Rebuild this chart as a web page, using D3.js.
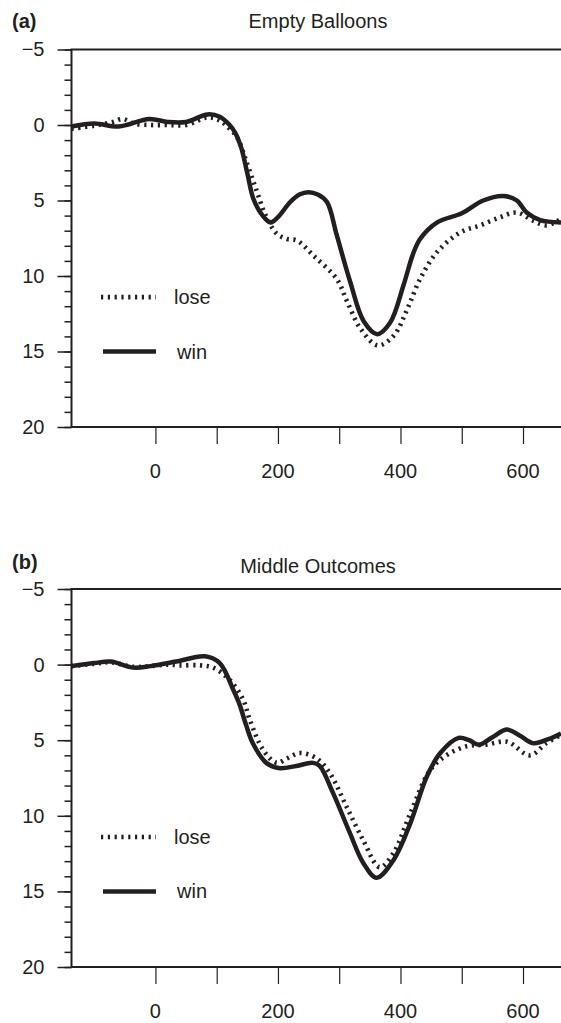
<!DOCTYPE html>
<head>
  <meta charset="utf-8">
  <style>
  body { margin: 0; background: #fff; overflow: hidden; }
  * { font-family: "Liberation Sans", Arial, sans-serif; }
  .frame { stroke: #231f20; stroke-width: 2px; fill: none; }
  .tick line { stroke: #231f20; }
  .tick text { fill: #231f20; font-size: 20px; }
  .win { fill: none; stroke: #231f20; stroke-width: 4.5px; }
  .lose { fill: none; stroke: #231f20; stroke-width: 4.6px; stroke-dasharray: 2.2,4.6; }
  .lbl { fill: #231f20; font-size: 20px; }
  </style>
  <title>Empty Balloons / Middle Outcomes</title>
</head>
<body>
<svg width="561" height="1023"></svg>
<script src="https://cdnjs.cloudflare.com/ajax/libs/d3/7.8.5/d3.min.js"></script>
<script>
// ms after feedback, amplitude (negative up)
var xTicks = [0, 100, 200, 300, 400, 500, 600];
var xLabels = [0, 200, 400, 600];
var yMajor = [-5, 0, 5, 10, 15, 20];

// (a) Empty Balloons
var tWinA  = [-137, -100, -60, -10, 20, 50, 85, 105, 120, 130, 140, 150, 160, 175, 188, 200, 220, 235, 250, 265, 280, 296, 318, 340, 362, 383, 405, 420, 432, 460, 500, 535, 568, 590, 606, 628, 662];
var winA   = [0.1, -0.1, 0.1, -0.4, -0.2, -0.2, -0.7, -0.55, -0.05, 0.5, 1.5, 3.2, 4.9, 6.0, 6.45, 6.1, 5.1, 4.6, 4.45, 4.6, 5.1, 7.3, 10.4, 13.0, 13.85, 13.1, 10.6, 8.6, 7.55, 6.45, 5.85, 5.0, 4.7, 5.0, 5.8, 6.3, 6.45];
var tLoseA = [-137, -100, -70, -54, -35, -8, 20, 50, 85, 105, 120, 133, 150, 166, 180, 198, 215, 231, 258, 296, 313, 335, 363, 389, 411, 432, 460, 498, 530, 563, 590, 617, 639, 662];
var loseA  = [0.25, 0.05, -0.2, -0.4, -0.1, 0.0, 0.0, 0.0, -0.5, -0.3, 0.2, 0.8, 2.6, 4.45, 6.0, 7.2, 7.55, 7.65, 8.65, 10.2, 11.7, 13.5, 14.6, 13.95, 12.2, 10.2, 8.4, 7.1, 6.65, 6.1, 5.8, 6.35, 6.65, 6.2];

// (b) Middle Outcomes
var tWinB  = [-137, -100, -73, -36, -8, 34, 81, 105, 127, 137, 148, 159, 181, 203, 230, 257, 268, 290, 317, 339, 361, 389, 416, 443, 465, 495, 512, 528, 550, 574, 595, 617, 640, 662];
var winB   = [0.1, -0.1, -0.2, 0.2, 0.1, -0.2, -0.55, -0.1, 1.66, 2.6, 4.0, 5.2, 6.5, 6.85, 6.7, 6.5, 6.7, 8.5, 11.1, 13.1, 14.1, 12.9, 10.5, 7.4, 5.85, 4.85, 5.0, 5.3, 4.8, 4.3, 4.7, 5.2, 4.95, 4.55];
var tLoseB = [-137, -100, -73, -36, -8, 20, 40, 73, 94, 121, 143, 154, 176, 198, 215, 236, 263, 285, 312, 339, 366, 388, 416, 448, 475, 508, 540, 574, 611, 638, 662];
var loseB  = [0.1, -0.05, -0.15, 0.15, 0.1, 0.0, 0.05, 0.05, 0.2, 1.0, 2.3, 3.65, 5.65, 6.5, 6.2, 5.85, 6.2, 7.2, 9.4, 11.6, 13.4, 12.5, 9.85, 7.0, 6.0, 5.4, 5.3, 5.1, 6.0, 5.2, 4.65];

var panels = [
  {tag: "(a)", title: "Empty Balloons", top: 49.5, bottom: 427, tagY: 28, titleY: 28,
   win: [tWinA, winA], lose: [tLoseA, loseA]},
  {tag: "(b)", title: "Middle Outcomes", top: 589, bottom: 967, tagY: 569, titleY: 573,
   win: [tWinB, winB], lose: [tLoseB, loseB]}
];

var svg = d3.select("svg");
var left = 71.5, right = 561;

var x = d3.scaleLinear().domain([-137, 662]).range([left, right]);

panels.forEach(function(p) {
  var g = svg.append("g");
  var y = d3.scaleLinear().domain([-5, 20]).range([p.top, p.bottom]);

  var line = d3.line()
      .x(function(d) { return x(d[0]); })
      .y(function(d) { return y(d[1]); })
      .curve(d3.curveCatmullRom.alpha(0.5));

  function pairs(s) { return s[0].map(function(t, i) { return [t, s[1][i]]; }); }

  // y axis: major ticks with labels, minor every unit
  g.append("g")
      .attr("transform", "translate(" + left + ",0)")
      .call(d3.axisLeft(y).tickValues(d3.range(-5, 21, 1)).tickSize(7).tickFormat(""))
      .call(function(a) { a.select(".domain").remove(); a.selectAll("line").attr("stroke-width", 1.5); });
  g.append("g")
      .attr("transform", "translate(" + left + ",0)")
      .call(d3.axisLeft(y).tickValues(yMajor).tickSize(14).tickPadding(13)
        .tickFormat(function(d) { return d < 0 ? "\u2212" + (-d) : d; }))
      .call(function(a) {
        a.select(".domain").remove();
        a.selectAll("line").attr("stroke-width", 1.5);
        a.selectAll("text").attr("font-size", null).attr("font-family", null);
      });

  // x axis ticks below
  g.append("g")
      .attr("transform", "translate(0," + p.bottom + ")")
      .call(d3.axisBottom(x).tickValues(xTicks).tickSize(17).tickFormat(""))
      .call(function(a) { a.select(".domain").remove(); a.selectAll("line").attr("stroke-width", 1.2); });
  g.selectAll(".xl").data(xLabels).enter().append("text")
      .attr("class", "lbl")
      .attr("x", function(d) { return x(d); })
      .attr("y", p.bottom + 51)
      .attr("text-anchor", "middle")
      .text(function(d) { return d; });

  // frame: left, top, bottom
  g.append("path").attr("class", "frame")
      .attr("d", "M" + right + "," + p.top + "H" + left + "V" + p.bottom + "H" + right);

  g.append("path").attr("class", "lose").attr("d", line(pairs(p.lose)));
  g.append("path").attr("class", "win").attr("d", line(pairs(p.win)));

  // legend
  var ly1 = y(11.4), ly2 = y(15);
  g.append("line").attr("class", "lose").attr("x1", 101).attr("x2", 156).attr("y1", ly1).attr("y2", ly1);
  g.append("text").attr("class", "lbl").attr("x", 174).attr("y", ly1).attr("dy", "0.35em").text("lose");
  g.append("line").attr("class", "win").attr("x1", 103).attr("x2", 156).attr("y1", ly2).attr("y2", ly2);
  g.append("text").attr("class", "lbl").attr("x", 177).attr("y", ly2).attr("dy", "0.35em").text("win");

  g.append("text").attr("class", "lbl").attr("x", 12).attr("y", p.tagY)
      .attr("font-weight", "bold").text(p.tag);
  g.append("text").attr("class", "lbl").attr("x", 318).attr("y", p.titleY)
      .attr("text-anchor", "middle").text(p.title);
});
</script>
</body>
